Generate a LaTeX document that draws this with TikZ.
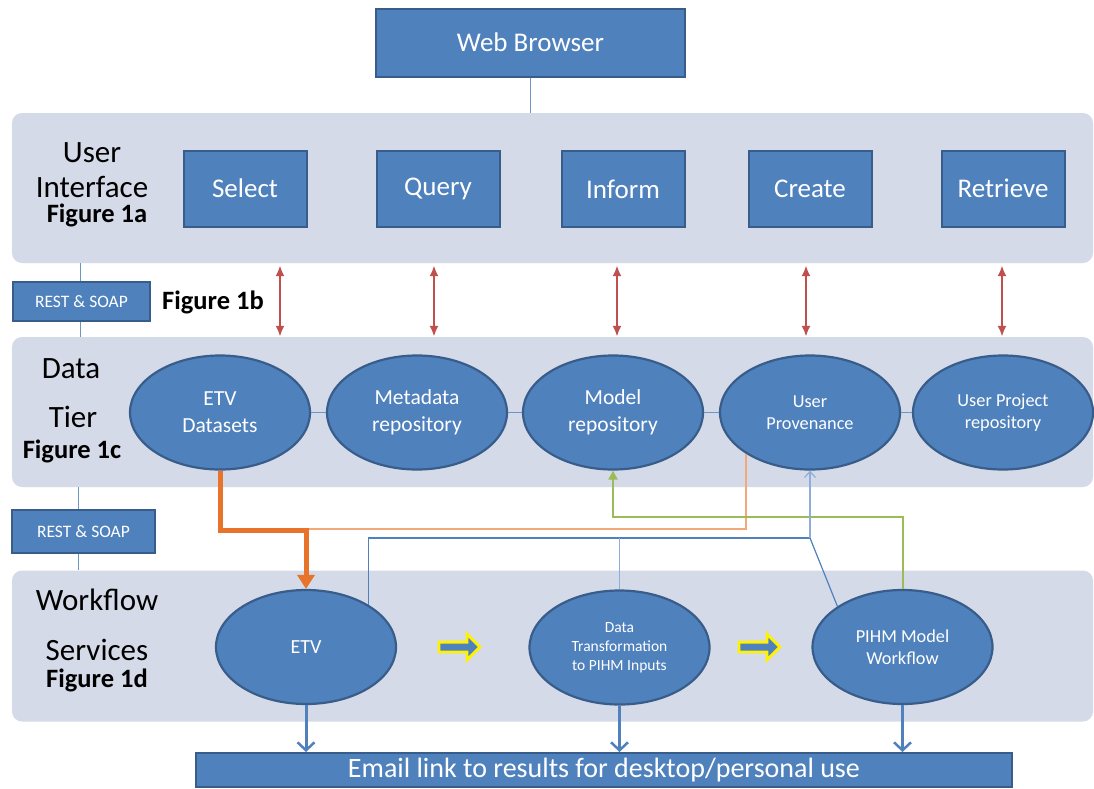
\documentclass[tikz,border=0pt]{standalone}
\usepackage{fontspec}
\setmainfont{Carlito}
\usepackage{tikz}
\usetikzlibrary{shapes.geometric, shapes.arrows, arrows.meta, positioning}

\definecolor{boxBlue}{HTML}{4F81BD}
\definecolor{boxEdge}{HTML}{385D8A}
\definecolor{bandFill}{HTML}{D5DAE8}
\definecolor{tieBlue}{HTML}{6E95C8}
\definecolor{provBlue}{HTML}{8EAEDA}
\definecolor{linkRed}{HTML}{C0504D}
\definecolor{flowOrange}{HTML}{E8732A}
\definecolor{paleOrange}{HTML}{F2A878}
\definecolor{feedGreen}{HTML}{9BBB59}

\begin{document}
\begin{tikzpicture}[
        x=1pt, y=-1pt,
        font=\fontsize{27}{32}\selectfont,
        >=Latex,
        % styles
        baseBox/.style={rectangle, fill=boxBlue, draw=boxEdge, line width=2pt, text=white, align=center, inner sep=0pt},
        uiBox/.style={baseBox, minimum width=123pt, minimum height=76pt},
        restBox/.style={baseBox, font=\fontsize{17.5}{20}\selectfont},
        baseOval/.style={ellipse, fill=boxBlue, draw=boxEdge, line width=2.2pt, text=white, align=center, inner sep=0pt, minimum width=180pt, minimum height=114pt},
        dataOval/.style={baseOval, font=\fontsize{21.5}{27}\selectfont},
        smallOval/.style={baseOval, font=\fontsize{18.3}{22}\selectfont},
        % band styles
        band/.style={rectangle, fill=bandFill, rounded corners=10pt, minimum width=1081pt, minimum height=150pt},
        bandLbl/.style={anchor=base, text=black, font=\fontsize{31}{36}\selectfont},
        figLbl/.style={anchor=base, text=black, font=\fontsize{26.5}{30}\selectfont\bfseries},
        stepArrow/.style={single arrow, fill=boxBlue, draw=yellow, line width=2.8pt, minimum height=41pt, single arrow head extend=8pt, inner sep=3.5pt},
        % connector styles
        tieLine/.style={draw=tieBlue, line width=1pt},
        reqArrow/.style={{Latex[length=11pt,width=9pt]}-{Latex[length=11pt,width=9pt]}, draw=linkRed, line width=2.6pt},
        mainFlow/.style={-{Triangle[length=14pt,width=17pt]}, draw=flowOrange, line width=5pt},
        sideFlow/.style={draw=paleOrange, line width=1.8pt},
        greenFlow/.style={-{Triangle[length=9pt,width=9pt]}, draw=feedGreen, line width=2pt},
        provLine/.style={draw=boxBlue, line width=1.2pt},
        outArrow/.style={-{Straight Barb[length=8pt,width=17pt,line width=2.5pt]}, draw=boxBlue, line width=3pt}
    ]
    \useasboundingbox (0,0) rectangle (1094,788);

    % bands
    \node [band] (uiBand) at (552.5,188) {};
    \node [band] (dataBand) at (552.5,412) {};
    \node [band, minimum height=151pt] (flowBand) at (552.5,646) {};

    % row 0: browser
    \node [baseBox, minimum width=309pt, minimum height=68pt] (browser) at (530.5,42.5) {Web Browser};

    % row 1: user interface
    \node [bandLbl] (uiLblA) at (92,162) {User};
    \node [bandLbl] (uiLblB) at (92,197) {Interface};
    \node [figLbl] (uiFig) at (97,222) {Figure 1a};
    \node [uiBox] (select) at (245,188.5) {Select};
    \node [uiBox] (query) at (438,188.5) {Query};
    \node [uiBox] (inform) at (623,189) {Inform};
    \node [uiBox] (create) at (810,188.5) {Create};
    \node [uiBox] (retrieve) at (1003,188.5) {Retrieve};

    % rest layer 1
    \node [restBox, minimum width=137pt, minimum height=39pt] (restA) at (81.5,301.5) {REST \& SOAP};
    \node [figLbl] (restFig) at (213,309) {Figure 1b};

    % row 2: data tier
    \node [bandLbl] (dataLblA) at (71,378) {Data};
    \node [bandLbl] (dataLblB) at (73,427) {Tier};
    \node [figLbl] (dataFig) at (72,458) {Figure 1c};
    \node [dataOval] (etvData) at (220,412.5) {ETV\\Datasets};
    \node [dataOval] (metaRepo) at (417,412.5) {Metadata\\repository};
    \node [dataOval] (modelRepo) at (613,412.5) {Model\\repository};
    \node [smallOval] (prov) at (810,412.5) {User\\Provenance};
    \node [smallOval] (projRepo) at (1003,412.5) {User Project\\repository};

    % rest layer 2
    \node [restBox, minimum width=143pt, minimum height=43pt] (restB) at (83.5,531.5) {REST \& SOAP};

    % row 3: workflow services
    \node [bandLbl] (flowLblA) at (97,610) {Workflow};
    \node [bandLbl] (flowLblB) at (97,660) {Services};
    \node [figLbl] (flowFig) at (97,687) {Figure 1d};
    \node [baseOval, font=\fontsize{20}{24}\selectfont] (etvFlow) at (306,647) {ETV};
    \node [baseOval, font=\fontsize{15.5}{19}\selectfont] (dataTrans) at (619.5,647.5) {Data\\Transformation\\to PIHM Inputs};
    \node [smallOval] (pihm) at (902.5,647) {PIHM Model\\Workflow};
    \node [stepArrow] (stepA) at (457,647) {};
    \node [stepArrow] (stepB) at (757,647) {};

    % row 4: results
    \node [baseBox, minimum width=816pt, minimum height=34pt, font=\fontsize{28}{32}\selectfont] (email) at (604,770) {Email link to results for desktop/personal use};

    % connections

    % browser and rest links
    \draw [tieLine] (browser.south) -- (browser.south |- uiBand.north);
    \draw [tieLine] (restA.north -| 80,0) -- (uiBand.south -| 80,0);
    \draw [tieLine] (restA.south -| 80,0) -- (dataBand.north -| 80,0);
    \draw [tieLine] (restB.north -| 78,0) -- (dataBand.south -| 78,0);
    \draw [tieLine] (restB.south -| 78,0) -- (flowBand.north -| 78,0);

    % requests between interface and data tier
    \foreach \ax in {280,434,617,806,1002}
        \draw [reqArrow] (uiBand.south -| \ax,0) ++(0,2) -- (dataBand.north -| \ax,0);

    % data tier links
    \draw [tieLine] (etvData.east) -- (metaRepo.west);
    \draw [tieLine] (metaRepo.east) -- (modelRepo.west);
    \draw [tieLine] (modelRepo.east) -- (prov.west);
    \draw [tieLine] (prov.east) -- (projRepo.west);

    % datasets to ETV workflow
    \coordinate (orangeTurn) at (306,529);
    \draw [sideFlow] (prov.213) |- (orangeTurn);
    \draw [mainFlow] (etvData.south) |- (etvFlow.north |- 0,530) -- (etvFlow.north);

    % model workflow back to model repository
    \draw [greenFlow] (pihm.north) |- (modelRepo.south |- 0,517) -- (modelRepo.south);

    % provenance links
    \coordinate (provHub) at (810,538);
    \draw [provLine] (etvFlow.34) |- (provHub);
    \draw [provLine] (pihm.148) -- (provHub);
    \draw [provLine, draw=provBlue] (dataTrans.north) -- (dataTrans.north |- provHub);
    \draw [provLine, draw=provBlue, -{Straight Barb[length=6pt,width=11pt]}] (provHub) -- (prov.south);

    % results by email
    \draw [outArrow] (etvFlow.south) -- (email.north -| etvFlow.south);
    \draw [outArrow] (dataTrans.south) -- (email.north -| dataTrans.south);
    \draw [outArrow] (pihm.south) -- (email.north -| pihm.south);

\end{tikzpicture}
\end{document}
